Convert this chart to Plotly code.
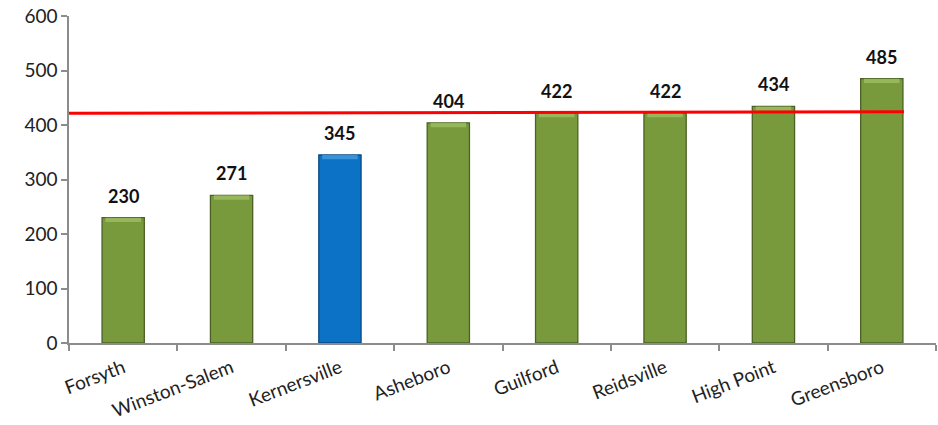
import plotly.graph_objects as go

# Values per community
places = ["Forsyth", "Winston-Salem", "Kernersville", "Asheboro",
          "Guilford", "Reidsville", "High Point", "Greensboro"]
values = [230, 271, 345, 404, 422, 422, 434, 485]
highlight = "Kernersville"

# Reference line level (left end, right end)
ref_start, ref_end = 421.5, 424.5

y_ticks = [0, 100, 200, 300, 400, 500, 600]

green_body, green_edge, green_cap = "#789A3D", "#4B6124", "#A2C264"
blue_body, blue_edge, blue_cap = "#0B72C6", "#0A4A82", "#4A9FE0"

body = [blue_body if p == highlight else green_body for p in places]
edge = [blue_edge if p == highlight else green_edge for p in places]
cap = [blue_cap if p == highlight else green_cap for p in places]

bar_w = 0.39
cap_h = 8

fig = go.Figure()
fig.add_trace(go.Bar(
    x=places, y=values, width=bar_w,
    marker=dict(color=body, line=dict(color=edge, width=1.3)),
    hoverinfo="x+y",
))
# lighter bevel along the top of each bar
fig.add_trace(go.Bar(
    x=places, y=[cap_h] * len(values),
    base=[v - cap_h for v in values], width=bar_w * 0.84,
    marker=dict(color=cap, line=dict(width=0), opacity=0.75),
    hoverinfo="skip",
))

# reference line across the plot
fig.add_shape(type="line", xref="paper", yref="y",
              x0=0, x1=0.963, y0=ref_start, y1=ref_end,
              line=dict(color="#FF0000", width=3), layer="above")

for p, v in zip(places, values):
    fig.add_annotation(x=p, y=v, text=f"<b>{v}</b>", showarrow=False,
                       yanchor="bottom", yshift=9,
                       font=dict(family="Lato, Open Sans, sans-serif",
                                 size=18, color="#111"))

fig.update_layout(
    width=938, height=425,
    margin=dict(l=69, r=2, t=16, b=82),
    paper_bgcolor="white", plot_bgcolor="white",
    barmode="overlay", showlegend=False,
    font=dict(family="Lato, Open Sans, sans-serif", size=19, color="#222"),
)
fig.update_xaxes(
    showline=True, linecolor="#8C8C8C", linewidth=1.5,
    ticks="outside", ticklen=6, tickcolor="#8C8C8C", tickwidth=1.5,
    tickson="boundaries", tickangle=-21, showgrid=False,
    ticklabelstandoff=5, automargin=False,
    tickfont=dict(size=19, color="#222"),
)
fig.update_yaxes(
    range=[0, 600], tickvals=y_ticks, showgrid=False, zeroline=False,
    showline=True, linecolor="#8C8C8C", linewidth=1.5,
    ticks="outside", ticklen=6, tickcolor="#8C8C8C", tickwidth=1.5,
    automargin=False,
    tickfont=dict(size=19, color="#222"),
)

fig.write_html("out.html")
